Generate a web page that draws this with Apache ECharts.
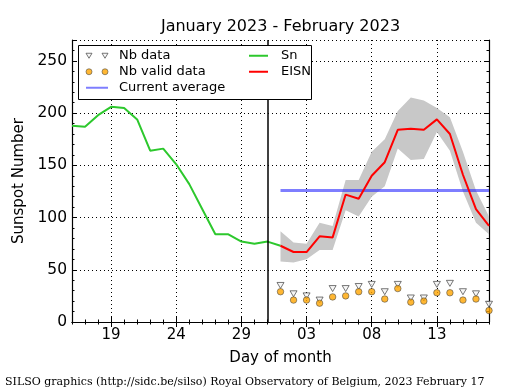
<!DOCTYPE html>
<html><head><meta charset="utf-8">
<script src="https://cdn.jsdelivr.net/npm/echarts@6/dist/echarts.min.js"></script>
<style>html,body{margin:0;padding:0;background:#fff}#c{width:515px;height:390px}</style>
</head><body><div id="c"></div>
<script>
// Day-of-month categories: Jan 16 .. Jan 31, Feb 01 .. Feb 17
const days = ['16','17','18','19','20','21','22','23','24','25','26','27','28','29','30','31',
              '01','02','03','04','05','06','07','08','09','10','11','12','13','14','15','16','17'];
const febStart = 16;           // index of Feb 01
const monthBoundary = '31';    // vertical line (Jan 31)
// Sn, Jan 16 .. Feb 01
const sn = [188, 187, 198, 206, 205, 194, 164, 166, 151, 132, 108, 84, 84, 77, 75, 77, 73];
// EISN and its band, Feb 01 .. Feb 17
const eisn      = [73, 67, 67, 82, 81, 122, 118, 140, 153, 184, 185, 184, 194, 180, 141, 108, 92];
const eisnUpper = [87, 76, 75, 95, 92, 136, 136, 163, 175, 202, 215, 212, 205, 196, 163, 126, 101];
const eisnLower = [58, 57, 60, 69, 69, 107, 101, 120, 130, 166, 155, 156, 182, 164, 125, 95, 84];
const nbData    = [35, 27, 25, 21, 32, 32, 34, 36, 29, 36, 23, 23, 36, 37, 29, 27, 17];
const nbValid   = [29, 21, 21, 18, 24, 25, 29, 29, 22, 32, 19, 20, 28, 28, 21, 22, 11];
const currentAverage = 126;
const yTicks = [0, 50, 100, 150, 200, 250];

const full = arr => days.map((d, i) => i >= febStart ? arr[i - febStart] : null);
const janPart = days.map((d, i) => i < sn.length ? sn[i] : null);
const majorIdx = (i) => (i - 3) % 5 === 0;
const FONT = 'DejaVu Sans';

const chart = echarts.init(document.getElementById('c'), null, {renderer: 'canvas'});
const dotted = {type: [1, 3], color: '#000', width: 1};
const frame = {show: true, lineStyle: {color: '#000', width: 1.2}};
const noSym = {opacity: 0};

const option = {
  animation: false,
  grid: {left: 72, right: 26, top: 40, bottom: 68, containLabel: false},
  xAxis: [
    {type: 'category', data: days, boundaryGap: false, position: 'bottom',
     axisLine: frame,
     axisTick: {show: true, inside: true, length: 5, interval: (i) => majorIdx(i), lineStyle: {color: '#000'}},
     axisLabel: {interval: (i) => majorIdx(i), color: '#000', fontFamily: FONT, fontSize: 15, margin: 6},
     splitLine: {show: true, interval: (i) => majorIdx(i), lineStyle: dotted},
     name: 'Day of month', nameLocation: 'middle', nameGap: 29,
     nameTextStyle: {color: '#000', fontFamily: FONT, fontSize: 15}},
    {type: 'category', data: days, boundaryGap: false, position: 'bottom',
     axisLine: {show: false}, axisLabel: {show: false}, splitLine: {show: false},
     axisTick: {show: true, inside: true, length: 2.5, interval: 0, lineStyle: {color: '#000'}}},
    {type: 'category', data: days, boundaryGap: false, position: 'top',
     axisLine: frame, axisLabel: {show: false}, splitLine: {show: false},
     axisTick: {show: true, inside: true, length: 5, interval: (i) => majorIdx(i), lineStyle: {color: '#000'}}},
    {type: 'category', data: days, boundaryGap: false, position: 'top',
     axisLine: {show: false}, axisLabel: {show: false}, splitLine: {show: false},
     axisTick: {show: true, inside: true, length: 2.5, interval: 0, lineStyle: {color: '#000'}}}
  ],
  yAxis: [
    {type: 'value', min: 0, max: 270, interval: 50, position: 'left',
     axisLine: frame,
     axisTick: {show: true, inside: true, length: 5, lineStyle: {color: '#000'}},
     axisLabel: {color: '#000', fontFamily: FONT, fontSize: 15.5, margin: 5,
       formatter: v => yTicks.indexOf(v) >= 0 ? String(v) : ''},
     splitLine: {show: true, lineStyle: dotted},
     name: 'Sunspot Number', nameLocation: 'middle', nameGap: 41,
     nameTextStyle: {color: '#000', fontFamily: FONT, fontSize: 15}},
    {type: 'value', min: 0, max: 270, interval: 10, position: 'left',
     axisLine: {show: false}, axisLabel: {show: false}, splitLine: {show: false},
     axisTick: {show: true, inside: true, length: 2.5, lineStyle: {color: '#000'}}},
    {type: 'value', min: 0, max: 270, interval: 50, position: 'right',
     axisLine: frame, axisLabel: {show: false}, splitLine: {show: false},
     axisTick: {show: true, inside: true, length: 5, lineStyle: {color: '#000'}}},
    {type: 'value', min: 0, max: 270, interval: 10, position: 'right',
     axisLine: {show: false}, axisLabel: {show: false}, splitLine: {show: false},
     axisTick: {show: true, inside: true, length: 2.5, lineStyle: {color: '#000'}}}
  ],
  legend: [
    {z: 11, left: 85, top: 48, padding: 0, orient: 'vertical', itemWidth: 22, itemHeight: 7, itemGap: 0.5,
     textStyle: {color: '#000', fontFamily: FONT, fontSize: 13, lineHeight: 15.5, padding: [0, 0, 0, 6]},
     data: [
       {name: 'Nb data', icon: 'path://M0,0L6,0L3,5ZM16,0L22,0L19,5Z',
        itemStyle: {color: '#f4f4f4', borderColor: '#444', borderWidth: 0.9}},
       {name: 'Nb valid data', icon: 'path://M0,3a3,3 0 1,0 6,0a3,3 0 1,0 -6,0ZM16,3a3,3 0 1,0 6,0a3,3 0 1,0 -6,0Z',
        itemStyle: {color: '#ffa500', borderColor: '#444', borderWidth: 0.7}},
       {name: 'Current average', itemStyle: noSym}
     ]},
    {z: 11, left: 248, top: 48, padding: 0, orient: 'vertical', itemWidth: 19, itemHeight: 7, itemGap: 0.5,
     textStyle: {color: '#000', fontFamily: FONT, fontSize: 13, lineHeight: 15.5, padding: [0, 0, 0, 8]},
     data: [{name: 'Sn', itemStyle: noSym}, {name: 'EISN', itemStyle: noSym}]}
  ],
  graphic: [
    {type: 'rect', z: 10, shape: {x: 78.5, y: 45.5, width: 233, height: 54},
     style: {fill: '#fff', stroke: '#000', lineWidth: 1}},
    {type: 'text', x: 280.5, y: 27, z: 5,
     style: {text: 'January 2023 - February 2023', fill: '#000', font: '16px "DejaVu Sans"',
             align: 'center', verticalAlign: 'middle', textAlign: 'center', textVerticalAlign: 'middle'}},
    {type: 'text', x: 5, y: 382, z: 5,
     style: {text: 'SILSO graphics (http://sidc.be/silso) Royal Observatory of Belgium, 2023 February 17',
             fill: '#000', font: '11px "DejaVu Serif"', align: 'left', verticalAlign: 'middle',
             textAlign: 'left', textVerticalAlign: 'middle'}}
  ],
  series: [
    {name: 'bandLower', type: 'line', stack: 'band', data: full(eisnLower), symbol: 'none',
     lineStyle: {opacity: 0}, silent: true, z: 1},
    {name: 'bandRange', type: 'line', stack: 'band', data: full(eisnUpper.map((u, i) => u - eisnLower[i])),
     symbol: 'none', lineStyle: {opacity: 0}, areaStyle: {color: '#c8c8c8', opacity: 1}, silent: true, z: 1},
    {name: 'Current average', type: 'line', data: full(eisn.map(() => currentAverage)), symbol: 'none',
     itemStyle: {color: 'rgba(40,40,255,0.6)'}, lineStyle: {color: 'rgba(40,40,255,0.6)', width: 3}, z: 2},
    {name: 'Sn', type: 'line', data: janPart, symbol: 'none',
     itemStyle: {color: '#2dc82d'}, lineStyle: {color: '#2dc82d', width: 2}, z: 3,
     markLine: {symbol: 'none', silent: true, label: {show: false},
       lineStyle: {color: '#000', type: 'solid', width: 1.5},
       data: [{xAxis: monthBoundary}]}},
    {name: 'EISN', type: 'line', data: full(eisn), symbol: 'none',
     itemStyle: {color: '#ff0000'}, lineStyle: {color: '#ff0000', width: 2}, z: 4},
    {name: 'Nb data', type: 'scatter', data: full(nbData), symbol: 'triangle', symbolRotate: 180,
     symbolSize: [7, 6], itemStyle: {color: '#f4f4f4', borderColor: '#444', borderWidth: 0.9}, z: 5},
    {name: 'Nb valid data', type: 'scatter', data: full(nbValid), symbol: 'circle', symbolSize: 6.5,
     itemStyle: {color: '#ffa500', borderColor: '#444', borderWidth: 0.7}, z: 6}
  ]
};
chart.setOption(option);
</script>
</body></html>
